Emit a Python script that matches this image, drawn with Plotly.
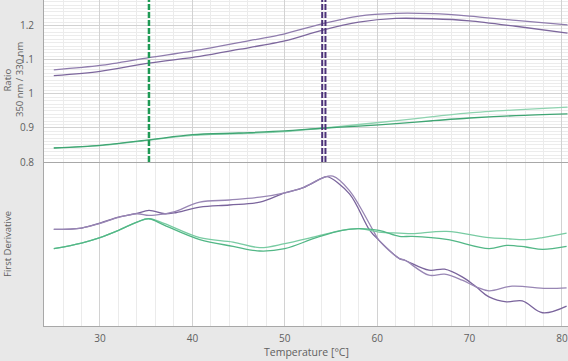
import plotly.graph_objects as go

# ---------------- data ----------------
# Ratio 350/330 (top panel)
ratio_T = [25, 30, 35.3, 40.8, 45, 50, 54, 58, 62, 66, 70, 75, 80.6]
ratio_purple_a = [1.070, 1.083, 1.106, 1.129, 1.150, 1.176, 1.205, 1.228, 1.236, 1.235, 1.228, 1.215, 1.202]
ratio_purple_b = [1.053, 1.066, 1.090, 1.110, 1.130, 1.155, 1.186, 1.210, 1.221, 1.220, 1.214, 1.198, 1.178]
ratio_T_green = [25, 30, 35.3, 40, 45, 50, 54, 58, 62.4, 66, 70, 75, 80.6]
ratio_green_a = [0.841, 0.848, 0.864, 0.878, 0.883, 0.889, 0.899, 0.910, 0.922, 0.933, 0.944, 0.953, 0.961]
ratio_green_b = [0.841, 0.849, 0.865, 0.880, 0.885, 0.891, 0.899, 0.905, 0.913, 0.921, 0.929, 0.936, 0.941]

# First derivative (bottom panel, arbitrary units)
der_T_p1 = [25, 28, 30, 32, 34, 35.3, 37, 38, 40.8, 44, 47.3, 50, 52, 54.1, 54.6, 57, 59.2, 60.2, 62.4, 63, 65.6, 67.3, 69.2, 70.7, 72.1, 74, 75.7, 77.9, 80.5]
der_p1 = [97, 98.3, 103.3, 109.3, 113, 116, 112.7, 113.5, 119.3, 121.5, 124.3, 133.7, 139, 148.7, 150, 132.7, 96, 86, 67.7, 66, 56, 57, 49.3, 39.3, 29.3, 24.3, 25.3, 13.3, 20]
der_T_p2 = [25, 28, 30, 32, 34, 35.3, 37, 38, 40.8, 44, 47.3, 50, 52, 54.1, 55.2, 57, 59.5, 60.2, 62.4, 63, 65.6, 67.3, 69.2, 70.7, 72.1, 74.6, 78.3, 80.5]
der_p2 = [97, 98.3, 103, 109, 112.7, 111, 112.7, 114.5, 124.3, 126.5, 129.3, 133.7, 139, 148.7, 150.5, 136, 97, 86, 67.7, 66, 51, 52, 46, 39.3, 35.3, 40, 37.7, 38.3]
der_T_green = [25, 28, 30, 32, 34, 35.3, 37, 40.8, 44.4, 47.3, 50, 53.4, 56.2, 58, 60.2, 62.4, 63.8, 67.5, 72.1, 74, 76.1, 77.9, 80.5]
der_g1 = [77.7, 83.3, 88.7, 96, 104.3, 107.7, 102.7, 88.7, 84.3, 78.7, 82.7, 90, 96, 97.7, 94.3, 93.3, 92.7, 95, 88.7, 87.7, 86.7, 88.7, 93.3]
der_g2 = [77.7, 83.3, 88.7, 96, 104.3, 107.7, 101, 86.7, 80, 75.3, 77.7, 88.7, 96, 97.7, 96, 90, 90, 87, 77.7, 81, 79.3, 77, 80]

# melting temperatures (dashed markers)
tm_green = [35.3]
tm_purple = [54.05, 54.4]

x_ticks = [30, 40, 50, 60, 70, 80]
ratio_ticks = [0.8, 0.9, 1, 1.1, 1.2]
ratio_tick_text = ["0.8", "0.9", "1", "1.1", "1.2"]

# ---------------- figure ----------------
GREEN_DARK = "#3fa573"
GREEN_LIGHT = "#8fd3b0"

fig = go.Figure()

def line(x, y, color, xa, ya, w=1.3, sm=0.8):
    fig.add_trace(go.Scatter(x=x, y=y, mode="lines", line=dict(color=color, width=w, shape="spline", smoothing=sm),
                             xaxis=xa, yaxis=ya, showlegend=False, hoverinfo="skip"))

line(ratio_T, ratio_purple_a, "#8f7cad", "x", "y")
line(ratio_T, ratio_purple_b, "#7d679d", "x", "y")
line(ratio_T_green, ratio_green_a, GREEN_LIGHT, "x", "y")
line(ratio_T_green, ratio_green_b, GREEN_DARK, "x", "y")

line(der_T_p1, der_p1, "#7a649c", "x2", "y2", sm=1.0)
line(der_T_p2, der_p2, "#9886b4", "x2", "y2", sm=1.0)
line(der_T_green, der_g1, "#78cba2", "x2", "y2", sm=1.0)
line(der_T_green, der_g2, "#52b786", "x2", "y2", sm=1.0)

for t in tm_green:
    fig.add_shape(type="line", xref="x", yref="y domain", x0=t, x1=t, y0=0, y1=1,
                  line=dict(color="#1f9a55", width=2.5, dash="6px,2px"))
for t in tm_purple:
    fig.add_shape(type="line", xref="x", yref="y domain", x0=t, x1=t, y0=0, y1=1,
                  line=dict(color="#4c3279", width=2, dash="6px,2px"))

W, H = 568, 361
ml, mb = 44, 35
ph = H - mb
split = 1 - 162 / ph

tickfont = dict(family="Open Sans, Noto Sans, sans-serif", size=10, color="#606060")
xrange_ = [23.94, 80.65]

common_x = dict(range=xrange_, showgrid=True, gridcolor="#d2d2d2", gridwidth=1,
                minor=dict(dtick=2, showgrid=True, gridcolor="#ebebeb", gridwidth=1, ticks=""),
                dtick=10, tick0=0, zeroline=False, showline=True, linecolor="#a8a8a8", linewidth=1)

fig.update_layout(
    width=W, height=H,
    margin=dict(l=ml, r=0, t=0, b=mb),
    paper_bgcolor="#e8e8e8", plot_bgcolor="#ffffff",
    xaxis=dict(**common_x, domain=[0, 1], anchor="y", showticklabels=False),
    yaxis=dict(domain=[split, 1], range=[0.8, 1.275], tickvals=ratio_ticks, ticktext=ratio_tick_text,
               tickfont=tickfont, showgrid=True, gridcolor="#d2d2d2",
               minor=dict(dtick=0.01, tick0=0.8, showgrid=True, gridcolor="#ececec", ticks=""),
               zeroline=False, showline=True, linecolor="#a8a8a8", ticks="", ticklabelstandoff=7),
    xaxis2=dict(**common_x, domain=[0, 1], anchor="y2", tickvals=x_ticks, tickfont=tickfont,
                ticks="", ticklabelstandoff=3),
    yaxis2=dict(domain=[0, split - 0.002], range=[0, 164], showgrid=False, showticklabels=False,
                zeroline=False, showline=True, linecolor="#a8a8a8", ticks=""),
    font=dict(family="Open Sans, Noto Sans, sans-serif", color="#606060"),
)

pw = W - ml
def xp(px):
    return (px - ml) / pw
def yp(py):
    return (ph - py) / ph

ann_font = dict(family="Open Sans, Noto Sans, sans-serif", size=9.5, color="#606060")
fig.add_annotation(text="Ratio", xref="paper", yref="paper", x=xp(6.5), y=yp(80), textangle=-90,
                   showarrow=False, font=ann_font, xanchor="center", yanchor="middle")
fig.add_annotation(text="350 nm / 330 nm", xref="paper", yref="paper", x=xp(19), y=yp(80), textangle=-90,
                   showarrow=False, font=ann_font, xanchor="center", yanchor="middle")
fig.add_annotation(text="First Derivative", xref="paper", yref="paper", x=xp(7), y=yp(244), textangle=-90,
                   showarrow=False, font=ann_font, xanchor="center", yanchor="middle")
fig.add_annotation(text="Temperature [°C]", xref="paper", yref="paper", x=xp(306), y=yp(352),
                   showarrow=False, font=dict(family="Open Sans, Noto Sans, sans-serif", size=10.5, color="#606060"),
                   xanchor="center", yanchor="middle")

fig.write_html("out.html", config={"displayModeBar": False},
               post_script="document.body.style.margin='0';document.body.style.overflow='hidden';")
